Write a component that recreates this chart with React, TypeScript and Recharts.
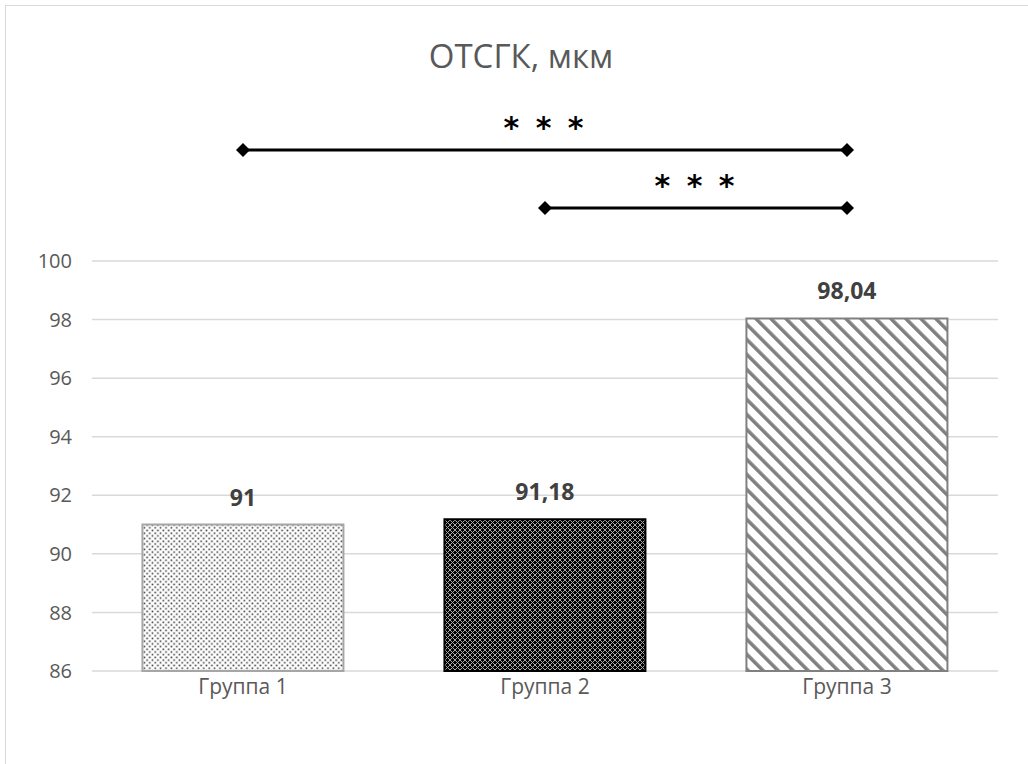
import React from 'react';
import { BarChart, Bar, XAxis, YAxis, CartesianGrid, ReferenceLine, ReferenceDot, LabelList, Cell } from 'recharts';

const groups = ['Группа 1', 'Группа 2', 'Группа 3'];
const values = [91, 91.18, 98.04];
const yTicks = [86, 88, 90, 92, 94, 96, 98, 100];

// significance brackets: from group, to group, level (in axis units), label
const sigFrom = ['Группа 1', 'Группа 2'];
const sigTo = ['Группа 3', 'Группа 3'];
const sigLevel = [103.79, 101.81];
const sigText = ['* * *', '* * *'];

const fills = ['url(#dots)', 'url(#lattice)', 'url(#stripes)'];
const strokes = ['#a6a6a6', '#000000', '#808080'];

const data = groups.map((g, i) => ({ name: g, value: values[i] }));

const FONT = '"Open Sans", "Noto Sans", sans-serif';

const Diamond = (props: any) => {
    const { cx, cy } = props;
    const r = 7;
    return <path d={`M${cx - r},${cy} L${cx},${cy - r} L${cx + r},${cy} L${cx},${cy + r} Z`} fill="#000" />;
};

export default function App() {
    return (
        <div style={{ position: 'absolute', left: 0, top: 0, width: 1028, height: 764, background: '#fff', overflow: 'hidden' }}>
            <div style={{ position: 'absolute', left: 5, top: 5, width: 1100, height: 900, borderTop: '1px solid #d9d9d9', borderLeft: '1px solid #d9d9d9' }} />
            <div style={{ position: 'absolute', left: 0, top: 36, width: 1042, textAlign: 'center', fontFamily: FONT, fontSize: 33, color: '#595959', fontWeight: 400, lineHeight: '40px' }}>
                ОТСГК, мкм
            </div>
            <div style={{ position: 'absolute', left: 0, top: 0 }}>
                <BarChart width={1028} height={764} data={data} margin={{ top: 261, right: 30, bottom: 53, left: 0 }} barCategoryGap="16.7%">
                    <defs>
                        <pattern id="dots" width="5.4" height="5.4" patternUnits="userSpaceOnUse">
                            <rect width="5.4" height="5.4" fill="#fff" />
                            <rect x="0.5" y="0.5" width="1.6" height="1.6" fill="#3a3a3a" />
                            <rect x="3.2" y="3.2" width="1.6" height="1.6" fill="#3a3a3a" />
                        </pattern>
                        <pattern id="lattice" width="5" height="5" patternUnits="userSpaceOnUse">
                            <rect width="5" height="5" fill="#000" />
                            <path d="M0,0 L5,5 M5,0 L0,5" stroke="#a8a8a8" strokeWidth="1" />
                        </pattern>
                        <pattern id="stripes" width="10.6" height="10.6" patternUnits="userSpaceOnUse" patternTransform="rotate(-45)">
                            <rect width="10.6" height="10.6" fill="#fff" />
                            <rect x="0" y="0" width="3.6" height="10.6" fill="#808080" />
                        </pattern>
                    </defs>
                    <CartesianGrid vertical={false} stroke="#d9d9d9" strokeWidth={1.5} />
                    <XAxis
                        dataKey="name"
                        height={40}
                        axisLine={false}
                        tickLine={false}
                        tickSize={0}
                        tickMargin={8}
                        tick={{ fontSize: 21, fill: '#595959', fontFamily: FONT }}
                    />
                    <YAxis
                        domain={[86, 100]}
                        ticks={yTicks}
                        axisLine={false}
                        tickLine={false}
                        tickSize={0}
                        tickMargin={20}
                        width={92}
                        tick={{ fontSize: 20, fill: '#595959', fontFamily: FONT }}
                    />
                    <Bar dataKey="value" isAnimationActive={false} strokeWidth={2}>
                        {data.map((d, i) => (
                            <Cell key={d.name} fill={fills[i]} stroke={strokes[i]} />
                        ))}
                        <LabelList
                            dataKey="value"
                            position="top"
                            offset={19}
                            formatter={(v: any) => String(v).replace('.', ',')}
                            style={{ fontSize: 23, fontWeight: 700, fill: '#404040', fontFamily: FONT }}
                        />
                    </Bar>
                    {sigLevel.map((lvl, i) => (
                        <ReferenceLine
                            key={`l${i}`}
                            segment={[{ x: sigFrom[i], y: lvl }, { x: sigTo[i], y: lvl }]}
                            ifOverflow="visible"
                            stroke="#000"
                            strokeWidth={3}
                            label={{ value: sigText[i], position: 'top', offset: 12, fill: '#000', fontSize: 30, fontWeight: 700, letterSpacing: 3, fontFamily: '"DejaVu Sans", sans-serif' }}
                        />
                    ))}
                    {sigLevel.map((lvl, i) => (
                        <ReferenceDot key={`a${i}`} x={sigFrom[i]} y={lvl} ifOverflow="visible" shape={Diamond} />
                    ))}
                    {sigLevel.map((lvl, i) => (
                        <ReferenceDot key={`b${i}`} x={sigTo[i]} y={lvl} ifOverflow="visible" shape={Diamond} />
                    ))}
                </BarChart>
            </div>
        </div>
    );
}
